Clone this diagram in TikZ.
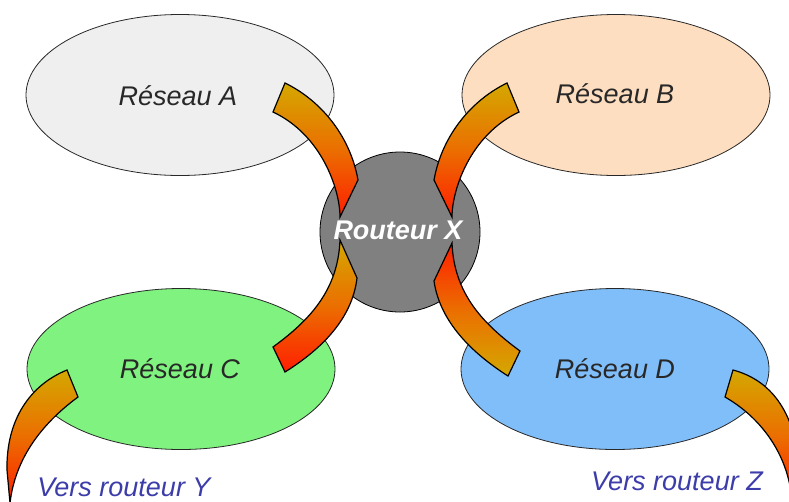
\documentclass[tikz,border=0pt]{standalone}
\usepackage{fontspec}
\setmainfont{Liberation Sans}
\usetikzlibrary{shapes.geometric}
\definecolor{netA}{RGB}{239,239,239}
\definecolor{netB}{RGB}{253,222,192}
\definecolor{netC}{RGB}{128,242,128}
\definecolor{netD}{RGB}{128,190,250}
\definecolor{routerfill}{RGB}{128,128,128}
\definecolor{bgold}{RGB}{212,168,0}
\definecolor{borange}{RGB}{235,110,0}
\definecolor{bred}{RGB}{255,30,0}
\definecolor{txtblue}{RGB}{60,60,170}
\definecolor{txtdark}{RGB}{40,40,40}
\begin{document}
\begin{tikzpicture}[x=1pt,y=-1pt,
 net/.style={ellipse,draw=txtdark,line width=0.8pt,minimum width=308pt,minimum height=161pt,inner sep=0pt},
 lbl/.style={font=\fontsize{27}{32}\selectfont\itshape,text=txtdark,anchor=base,inner sep=0pt},
 flowdown/.style={draw=black,line width=1.2pt,top color=bgold,bottom color=bred,middle color=borange},
 flowup/.style={draw=black,line width=1.2pt,top color=bred,bottom color=bgold,middle color=borange},
 vers/.style={font=\fontsize{27}{32}\selectfont\itshape,text=txtblue,inner sep=0pt}]
\clip (0,0) rectangle (789,501);
\fill[white] (0,0) rectangle (789,501);
\node[net,fill=netA] (A) at (180,95) {};
\node[net,fill=netB] (B) at (616,95) {};
\node[net,fill=netC] (C) at (181,369) {};
\node[net,fill=netD] (D) at (615,369) {};
\node[circle,draw=black,line width=0.8pt,fill=routerfill,minimum size=160pt,inner sep=0pt] (X) at (400,232) {};
% band A
\draw[flowdown] (285,83) .. controls (320,100) and (350,135) .. (358,180) -- (340,217)
  .. controls (340,190) and (322,135) .. (273,112) -- cycle;
% band B
\draw[flowdown] (507,83) .. controls (472,100) and (442,135) .. (434,180) -- (452,217)
  .. controls (452,190) and (470,135) .. (519,112) -- cycle;
% band C
\draw[flowdown] (340,240) -- (357,278) .. controls (352,320) and (320,350) .. (285,372)
  -- (273,347) .. controls (310,320) and (338,290) .. (340,240) -- cycle;
% band D
\draw[flowup] (452,243) -- (434,281) .. controls (440,322) and (472,353) .. (508,376)
  -- (520,351) .. controls (482,323) and (454,293) .. (452,243) -- cycle;
% band Y
\draw[flowdown] (67,370) .. controls (30,385) and (6,420) .. (7,470) -- (10,503)
  .. controls (15,460) and (40,425) .. (78,397) -- cycle;
% band Z
\draw[flowdown] (733,370) .. controls (770,380) and (795,410) .. (800,470) -- (792,503)
  .. controls (790,460) and (765,420) .. (725,397) -- cycle;
% labels
\node[lbl] (LA) at (178,105) {Réseau A};
\node[lbl] (LB) at (615,103) {Réseau B};
\node[lbl] (LC) at (180,378) {Réseau C};
\node[lbl] (LD) at (615,378) {Réseau D};
\node[font=\fontsize{27}{32}\selectfont\bfseries\itshape,text=white,inner sep=0pt] (XL) at (398,230) {Routeur X};
\node[vers] (VY) at (124,487) {Vers routeur Y};
\node[vers] (VZ) at (677,481) {Vers routeur Z};
\end{tikzpicture}
\end{document}
